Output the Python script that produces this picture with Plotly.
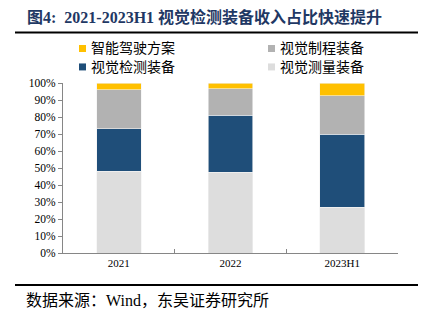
import plotly.graph_objects as go

categories = ["2021", "2022", "2023H1"]
measure = [0.48, 0.475, 0.27]      # 视觉测量装备
detect = [0.25, 0.335, 0.43]       # 视觉检测装备
process = [0.23, 0.155, 0.225]     # 视觉制程装备
driving = [0.04, 0.035, 0.075]     # 智能驾驶方案

names = ["视觉测量装备", "视觉检测装备", "视觉制程装备", "智能驾驶方案"]
colors = ["#DDDDDD", "#1F4E79", "#B2B2B2", "#FFC000"]
series = [measure, detect, process, driving]

W, H = 426, 329
L, R, T, B = 63, 398, 82.6, 253.0

fig = go.Figure()
for n, c, s in zip(names, colors, series):
    fig.add_trace(go.Bar(x=categories, y=s, name=n, marker=dict(color=c, line=dict(color="#F2F2F2", width=0.6)),
                         width=0.4, showlegend=False))

serif = "Times New Roman, Liberation Serif, Noto Sans CJK SC, serif"

def px(x):
    return (x - L) / (R - L)

def py(y):
    return (B - y) / (B - T)

shapes = [
    dict(type="line", xref="paper", yref="paper", x0=px(15), x1=px(418), y0=py(32), y1=py(32),
         line=dict(color="black", width=2)),
    dict(type="line", xref="paper", yref="paper", x0=px(15), x1=px(418), y0=py(285), y1=py(285),
         line=dict(color="black", width=2)),
]
annotations = [
    dict(text="<b>图4:  2021-2023H1 视觉检测装备收入占比快速提升</b>", xref="paper", yref="paper",
         x=px(25), y=py(16), xanchor="left", yanchor="middle", showarrow=False,
         font=dict(family=serif, size=16, color="#1F3864")),
    dict(text="数据来源：Wind，东吴证券研究所", xref="paper", yref="paper",
         x=px(24), y=py(301), xanchor="left", yanchor="middle", showarrow=False,
         font=dict(family=serif, size=16, color="#000000")),
]

legend_items = [
    ("智能驾驶方案", "#FFC000", 82.5, 48),
    ("视觉制程装备", "#B2B2B2", 271.5, 48),
    ("视觉检测装备", "#1F4E79", 82.5, 66.5),
    ("视觉测量装备", "#DDDDDD", 271.5, 66.5),
]
for txt, c, cx, cy in legend_items:
    shapes.append(dict(type="rect", xref="paper", yref="paper", x0=px(cx - 3.5), x1=px(cx + 3.5),
                       y0=py(cy + 3.5), y1=py(cy - 3.5), fillcolor=c, line=dict(width=0)))
    annotations.append(dict(text=txt, xref="paper", yref="paper", x=px(cx + 6), y=py(cy),
                            xanchor="left", yanchor="middle", showarrow=False,
                            font=dict(family=serif, size=14, color="#000000")))

fig.update_layout(
    width=W, height=H, barmode="stack",
    margin=dict(l=L, r=W - R, t=T, b=H - B, pad=0),
    paper_bgcolor="white", plot_bgcolor="white",
    font=dict(family=serif, size=11, color="#000000"),
    xaxis=dict(showline=True, linecolor="#868686", linewidth=1, ticks="inside", ticklen=4,
               tickcolor="#868686", tickson="boundaries", showgrid=False,
               tickfont=dict(family=serif, size=11), range=[-0.5, 2.5]),
    yaxis=dict(range=[0, 1], dtick=0.1, tickformat=".0%", showline=True, linecolor="#868686",
               linewidth=1, ticks="outside", ticklen=4, tickcolor="#868686", showgrid=False,
               zeroline=False, tickfont=dict(family=serif, size=11.5)),
    shapes=shapes, annotations=annotations, showlegend=False,
)

fig.write_html("out.html")
